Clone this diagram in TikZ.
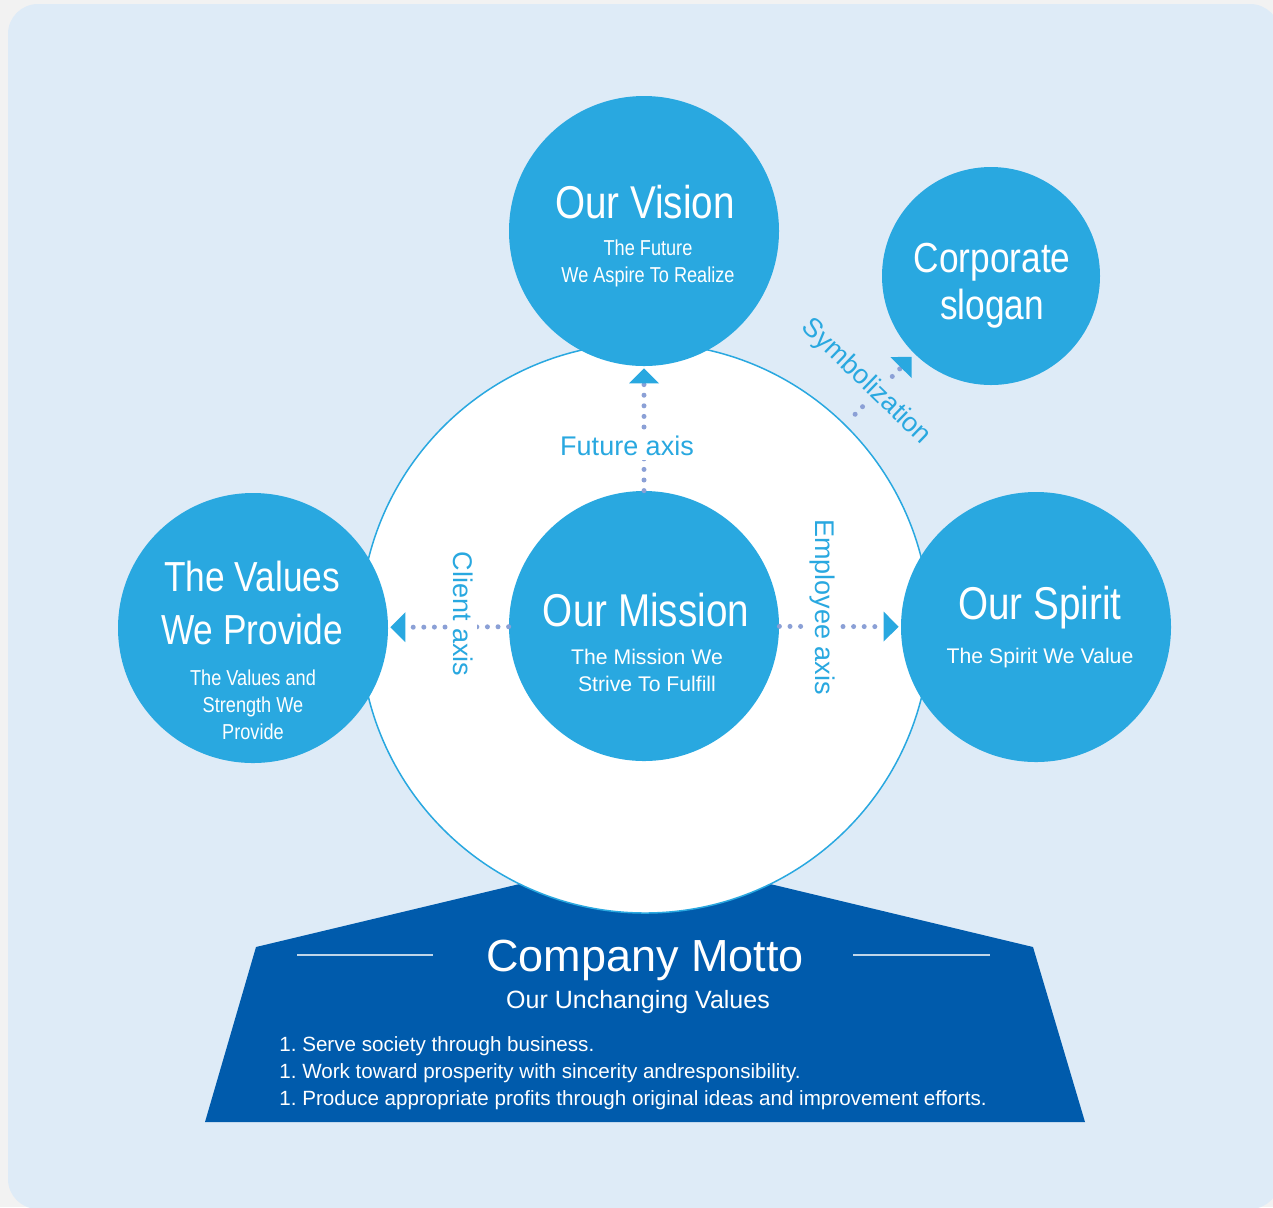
\documentclass[tikz,border=0pt]{standalone}
\usepackage{fontspec}
\setmainfont{Liberation Sans}
\newfontfamily\narrowfont[FakeStretch=0.84]{Liberation Sans}
\usetikzlibrary{arrows.meta,positioning}
\definecolor{corpblue}{RGB}{41,168,224}
\definecolor{mottoblue}{RGB}{0,91,172}
\definecolor{paleblue}{RGB}{222,235,247}
\definecolor{pagegray}{RGB}{242,242,242}
\definecolor{dotblue}{RGB}{139,160,214}
\frenchspacing

\begin{document}
\begin{tikzpicture}[x=0.5pt,y=-0.5pt,
  bluedisc/.style={circle,fill=corpblue,inner sep=0pt,minimum size=#1},
  bigtitle/.style={text=white,font=\narrowfont\fontsize{23}{27}\selectfont,align=center,inner sep=0pt},
  narrowsub/.style={text=white,font=\narrowfont\fontsize{10.8}{13.5}\selectfont,align=center,inner sep=0pt},
  plainsub/.style={text=white,font=\fontsize{10.6}{13.5}\selectfont,align=center,inner sep=0pt},
  axislabel/.style={text=corpblue,font=\fontsize{13.5}{16}\selectfont,fill=white,inner sep=2pt},
  axisarrow/.style={draw=dotblue,line width=2.5pt,line cap=round,dash pattern=on 0pt off 5.3pt,
    -{Triangle[length=7.5pt,width=15pt,line width=0pt,color=corpblue]}},
  mottoline/.style={draw=white!75!mottoblue,line width=0.75pt}]
\clip (0,0) rectangle (1273,1207);
\fill[pagegray] (0,0) rectangle (1273,1207);
\fill[paleblue,rounded corners=15pt] (8,4) rectangle (1280,1209);

\fill[mottoblue] (205,1122) -- (256,947) -- (645,854) -- (1033,947) -- (1085,1122) -- cycle;
\node[circle,draw=corpblue,line width=0.75pt,fill=white,minimum size=285pt,inner sep=0pt] (core) at (645,628) {};

\node[bluedisc=135pt] (vision) at (644,231) {};
\node[bluedisc=109pt] (slogan) at (991,276) {};
\node[bluedisc=135pt] (values) at (253,628) {};
\node[bluedisc=135pt] (mission) at (644,626) {};
\node[bluedisc=135pt] (spirit) at (1036,627) {};

\foreach \dst in {vision,values,spirit}
  \draw[axisarrow,shorten >=1pt] (mission) -- (\dst);
\draw[axisarrow,shorten <=7pt,shorten >=2pt] (core) -- (slogan);

\node[axislabel] (futurelbl) at (627,446) {Future axis};
\node[axislabel,rotate=-90] (clientlbl) at (463,614) {Client axis};
\node[axislabel,rotate=-90] (employeelbl) at (822,607) {Employee axis};
\node[axislabel,fill=paleblue,rotate=-44] (symbollbl) at (866,382) {Symbolization};

\node[bigtitle] (visiontitle) at (645,202) {Our Vision};
\node[narrowsub] (visionsub) at (648,263) {The Future\\We Aspire To Realize};
\node[bigtitle,font=\narrowfont\fontsize{21}{23.5}\selectfont] (slogantitle) at (992,286) {Corporate\\slogan};
\node[bigtitle,font=\narrowfont\fontsize{21}{26.5}\selectfont] (valuestitle) at (252,603) {The Values\\We Provide};
\node[narrowsub] (valuessub) at (253,705) {The Values and\\Strength We\\Provide};
\node[bigtitle] (missiontitle) at (646,610) {Our Mission};
\node[plainsub] (missionsub) at (647,670) {The Mission We\\Strive To Fulfill};
\node[bigtitle] (spirittitle) at (1040,608) {Our Spirit};
\node[plainsub] (spiritsub) at (1040,658) {The Spirit We Value};

\node[text=white,font=\fontsize{22.5}{27}\selectfont,inner sep=0pt] (motto) at (645,960) {Company Motto};
\draw[mottoline] (297,955) -- (433,955);
\draw[mottoline] (853,955) -- (990,955);
\node[text=white,font=\fontsize{12.5}{15}\selectfont,inner sep=0pt] (unchanging) at (638,1002) {Our Unchanging Values};
\node[text=white,font=\fontsize{10.3}{13.5}\selectfont,align=left,anchor=west,inner sep=0pt] (principles) at (279,1073)
  {1. Serve society through business.\\
   1. Work toward prosperity with sincerity andresponsibility.\\
   1. Produce appropriate profits through original ideas and improvement efforts.};
\end{tikzpicture}
\end{document}
